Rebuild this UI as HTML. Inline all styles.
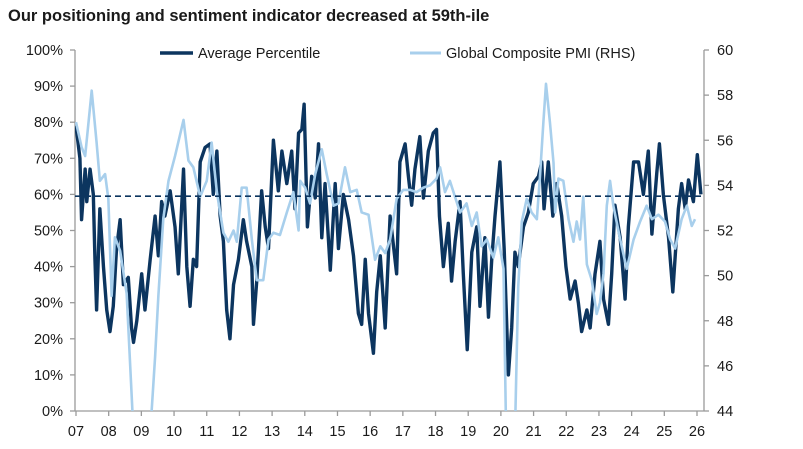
<!DOCTYPE html>
<html><head><meta charset="utf-8"><style>
body{margin:0;background:#fff;width:803px;height:444px;overflow:hidden;font-family:"Liberation Sans",sans-serif}
svg text{font-family:"Liberation Sans",sans-serif;fill:#1a1a1a}
</style></head><body>
<svg id="c" width="803" height="444">
<text x="8" y="21" font-size="16.5" font-weight="bold">Our positioning and sentiment indicator decreased at 59th-ile</text>
<g id="axes"></g>
<defs><clipPath id="pc"><rect x="75" y="40" width="629" height="371"/></clipPath></defs>
<g id="series" clip-path="url(#pc)"></g>
<g>
<line x1="160" y1="53" x2="193" y2="53" stroke="#0c355f" stroke-width="3.5"/>
<text x="198" y="58" font-size="14.5">Average Percentile</text>
<line x1="410" y1="53" x2="441" y2="53" stroke="#a8cfec" stroke-width="3"/>
<text x="446" y="58" font-size="14.5">Global Composite PMI (RHS)</text>
</g>
</svg>
<script>
const yearLabels=["07","08","09","10","11","12","13","14","15","16","17","18","19","20","21","22","23","24","25","26"];
const leftTicks=[0,10,20,30,40,50,60,70,80,90,100];
const rightTicks=[44,46,48,50,52,54,56,58,60];
const avgLevel=59.5;
const avgT=[0,.12,.17,.28,.33,.43,.53,.58,.63,.73,.84,.94,1.04,1.14,1.24,1.35,1.45,1.60,1.70,1.76,1.86,2.01,2.11,2.27,2.42,2.52,2.62,2.72,2.88,3.03,3.13,3.29,3.39,3.49,3.59,3.69,3.80,3.95,4.10,4.20,4.31,4.41,4.51,4.61,4.71,4.82,4.97,5.12,5.22,5.38,5.43,5.53,5.68,5.79,5.89,6.04,6.19,6.30,6.45,6.60,6.70,6.81,6.91,6.98,7.08,7.21,7.32,7.42,7.52,7.62,7.78,7.93,8.03,8.18,8.34,8.49,8.64,8.74,8.85,8.95,9.10,9.20,9.31,9.46,9.61,9.81,9.91,10.07,10.17,10.27,10.37,10.52,10.63,10.78,10.93,11.03,11.12,11.24,11.39,11.49,11.60,11.75,11.85,11.97,12.11,12.26,12.36,12.51,12.62,12.72,12.82,12.97,13.10,13.23,13.33,13.43,13.53,13.69,13.84,13.99,14.15,14.25,14.32,14.45,14.59,14.71,14.86,14.99,15.12,15.27,15.37,15.47,15.63,15.73,15.88,16.03,16.14,16.29,16.39,16.49,16.65,16.80,16.90,17.06,17.21,17.36,17.51,17.62,17.77,17.85,17.97,18.13,18.26,18.43,18.53,18.64,18.74,18.89,19.01,19.12];
const avgV=[79,70,53,67,58,67,60,42,28,56,40,28,22,29,45,53,35,37,23,19,25,38,28,42,54,43,58,54,61,51,38,67,40,29,42,40,69,73,74,60,72,54,47,28,20,35,42,53,47,40,24,36,61,51,45,75,61,72,63,72,56,77,78,85,51,65,59,74,48,63,39,63,45,60,53,43,27,24,42,27,16,33,43,23,54,38,69,74,65,57,67,76,59,72,77,78,54,40,52,36,47,58,38,17,44,51,29,48,26,42,54,69,45,10,23,44,40,51,55,63,65,69,56,69,54,63,54,40,31,36,30,22,28,23,38,47,31,24,38,57,48,31,51,69,69,60,72,49,66,74,60,48,33,56,63,56,64,58,71,60];
const pmiT=[0,.17,.28,.48,.63,.73,.89,.99,1.09,1.19,1.35,1.55,1.76,2.06,2.27,2.42,2.52,2.67,2.83,3.03,3.29,3.44,3.59,3.80,4.0,4.15,4.31,4.51,4.66,4.82,4.92,5.07,5.22,5.38,5.53,5.73,5.89,6.04,6.24,6.45,6.65,6.81,6.86,7.01,7.16,7.32,7.52,7.67,7.88,8.03,8.23,8.39,8.59,8.74,8.95,9.15,9.31,9.46,9.61,9.81,10.01,10.22,10.42,10.63,10.83,11.03,11.14,11.29,11.44,11.75,11.95,12.11,12.26,12.41,12.57,12.77,12.92,13.08,13.16,13.43,13.53,13.64,13.79,13.94,14.10,14.20,14.30,14.38,14.50,14.61,14.66,14.76,14.91,15.07,15.22,15.32,15.42,15.52,15.63,15.78,15.93,16.03,16.14,16.24,16.34,16.44,16.65,16.85,17.06,17.26,17.46,17.62,17.82,18.02,18.18,18.33,18.53,18.69,18.84,18.94];
const pmiV=[56.8,55.7,55.3,58.2,55.9,54.2,54.5,53.4,49.1,51.7,51.1,49.2,43,42,43,46.4,49.1,52.5,54.2,55.3,56.9,55.1,54.8,53.5,54.2,55.9,53.7,51.9,51.5,52.0,51.5,53.9,53.9,51.6,49.8,49.8,51.6,51.9,51.8,52.8,53.7,52,54.2,53.9,53.2,54.5,55.6,54.5,53.1,53.2,54.8,53.7,53.8,52.8,52.7,50.7,51.3,51,51.6,53.4,53.8,53.8,53.7,53.9,54.0,54.3,54.8,53.7,54.2,52.8,53.2,52.2,52.8,51.3,51.6,50.8,51.7,50.3,43,43,49.5,52.4,53.4,52.8,52.5,54.5,56.8,58.5,56.8,55,52.8,54.3,54.2,52.5,51.5,52.4,51.6,53.5,50.5,49.8,48.3,48.8,50.1,53.1,54.2,53.1,51.6,50.3,51.6,52.4,53.1,52.5,52.7,52.4,51.6,51.2,52.5,53.1,52.2,52.5];

const X0=76,X1=697,YT=50,YB=411,RX=704,LX=75;
const xs=t=>X0+(X1-X0)*t/19;
const yl=v=>YB-(YB-YT)*v/100;
const yr=v=>YB-(YB-YT)*(v-44)/16;
const NS="http://www.w3.org/2000/svg";
function mk(tag,attrs,parent){const e=document.createElementNS(NS,tag);for(const k in attrs)e.setAttribute(k,attrs[k]);parent.appendChild(e);return e;}
const ax=document.getElementById('axes');
let e;
e=mk('line',{x1:LX,y1:YT,x2:LX,y2:YB,stroke:'#9a9a9a','stroke-width':1.3},ax);


e=mk('line',{x1:RX,y1:YT,x2:RX,y2:YB,stroke:'#9a9a9a','stroke-width':1.3},ax);


e=mk('line',{x1:LX,y1:YB,x2:RX,y2:YB,stroke:'#9a9a9a','stroke-width':1.3},ax);


leftTicks.forEach(v=>{const y=yl(v);
 mk('line',{x1:LX-5,y1:y,x2:LX,y2:y,stroke:'#9a9a9a','stroke-width':1.3},ax);
 const t=mk('text',{x:63,y:y+5,'font-size':14.5,'text-anchor':'end'},ax);t.textContent=v+'%';
 
 });
rightTicks.forEach(v=>{const y=yr(v);
 mk('line',{x1:RX,y1:y,x2:RX+5,y2:y,stroke:'#9a9a9a','stroke-width':1.3},ax);
 const t=mk('text',{x:717,y:y+5,'font-size':14.5},ax);t.textContent=v;
 
 });
yearLabels.forEach((l,i)=>{const x=xs(i);
 mk('line',{x1:x,y1:YB,x2:x,y2:YB+5,stroke:'#9a9a9a','stroke-width':1.3},ax);
 const t=mk('text',{x:x,y:436,'font-size':14.5,'text-anchor':'middle'},ax);t.textContent=l;
 
 });
const sg=document.getElementById('series');
const pmi=mk('polyline',{points:pmiT.map((t,i)=>xs(t)+','+yr(pmiV[i])).join(' '),fill:'none',stroke:'#a8cfec','stroke-width':2.6,'stroke-linejoin':'round'},sg);


const avg=mk('polyline',{points:avgT.map((t,i)=>xs(t)+','+yl(avgV[i])).join(' '),fill:'none',stroke:'#0c355f','stroke-width':3.4,'stroke-linejoin':'round'},sg);


sg.appendChild(pmi);
const d=mk('line',{x1:LX,y1:yl(avgLevel),x2:RX,y2:yl(avgLevel),stroke:'#0c355f','stroke-width':1.6,'stroke-dasharray':'6 4'},ax.parentNode);


</script>
</body></html>
